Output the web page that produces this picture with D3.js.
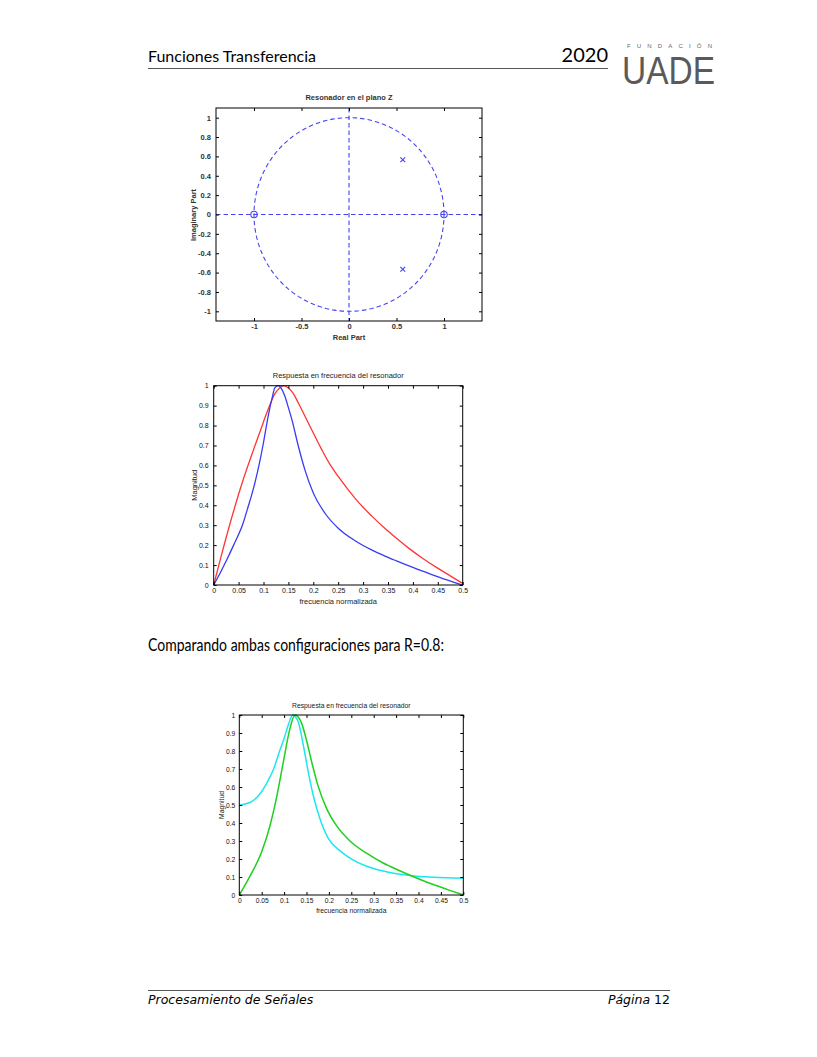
<!DOCTYPE html>
<html><head><meta charset="utf-8">
<script src="https://cdn.jsdelivr.net/npm/d3@7"></script>
<style>body{margin:0;background:#fff}svg{display:block}</style>
</head><body>
<script>
// ---- data ----
const zplaneXTicks = [-1, -0.5, 0, 0.5, 1];
const zplaneYTicks = [-1, -0.8, -0.6, -0.4, -0.2, 0, 0.2, 0.4, 0.6, 0.8, 1];
const zerosRe = [-1, 1];
const zerosIm = [0, 0];
const polesRe = [0.566, 0.566];
const polesIm = [0.566, -0.566];

const freqTicks = [0, 0.05, 0.1, 0.15, 0.2, 0.25, 0.3, 0.35, 0.4, 0.45, 0.5];
const magTicks = [0, 0.1, 0.2, 0.3, 0.4, 0.5, 0.6, 0.7, 0.8, 0.9, 1];

// Plot 2
const f2Blue = [0, 0.013, 0.026, 0.04, 0.059, 0.07, 0.076, 0.083, 0.093, 0.1, 0.11, 0.117, 0.123, 0.13, 0.136, 0.143, 0.15, 0.157, 0.17, 0.183, 0.2, 0.2235, 0.25, 0.284, 0.317, 0.344, 0.367, 0.4, 0.434, 0.465, 0.5];
const m2Blue = [0, 0.06, 0.125, 0.2, 0.31, 0.40, 0.45, 0.515, 0.625, 0.715, 0.855, 0.935, 0.99, 1.0, 0.985, 0.947, 0.89, 0.83, 0.696, 0.579, 0.462, 0.36, 0.285, 0.222, 0.176, 0.145, 0.121, 0.088, 0.056, 0.028, 0];
const f2Red = [0, 0.015, 0.033, 0.059, 0.083, 0.096, 0.103, 0.113, 0.123, 0.133, 0.14, 0.15, 0.16, 0.17, 0.19, 0.217, 0.2335, 0.25, 0.284, 0.30, 0.317, 0.347, 0.37, 0.394, 0.42, 0.448, 0.475, 0.5];
const m2Red = [0, 0.145, 0.31, 0.527, 0.70, 0.79, 0.84, 0.905, 0.96, 0.99, 1.0, 0.988, 0.96, 0.913, 0.813, 0.679, 0.605, 0.545, 0.435, 0.39, 0.347, 0.277, 0.228, 0.18, 0.133, 0.087, 0.046, 0.008];

// Plot 3
const f3Cyan = [0, 0.025, 0.05, 0.0685, 0.075, 0.09, 0.1, 0.11, 0.119, 0.125, 0.1317, 0.1429, 0.154, 0.165, 0.18, 0.199, 0.225, 0.247, 0.284, 0.321, 0.381, 0.433, 0.5];
const m3Cyan = [0.5, 0.515, 0.575, 0.656, 0.69, 0.80, 0.87, 0.95, 1.0, 0.99, 0.961, 0.832, 0.683, 0.554, 0.424, 0.313, 0.245, 0.205, 0.16, 0.133, 0.108, 0.098, 0.093];
const f3Green = [0, 0.025, 0.05, 0.0685, 0.0835, 0.098, 0.113, 0.124, 0.131, 0.139, 0.15, 0.162, 0.176, 0.195, 0.217, 0.247, 0.284, 0.321, 0.336, 0.381, 0.433, 0.465, 0.5];
const m3Green = [0, 0.11, 0.24, 0.385, 0.545, 0.735, 0.924, 1.0, 0.99, 0.955, 0.86, 0.735, 0.605, 0.48, 0.385, 0.30, 0.232, 0.178, 0.16, 0.11, 0.058, 0.03, 0];

// ---- page ----
const W = 817, H = 1057;
const svg = d3.select("body").append("svg").attr("width", W).attr("height", H);

// header
svg.append("text").attr("x", 148).attr("y", 62).attr("font-family", "Lato, 'Open Sans', sans-serif")
  .attr("font-size", 16).attr("fill", "#000").attr("textLength", 168).attr("lengthAdjust", "spacingAndGlyphs").text("Funciones Transferencia");
svg.append("text").attr("x", 608).attr("y", 62).attr("text-anchor", "end").attr("font-family", "Lato, 'Open Sans', sans-serif")
  .attr("font-size", 20).attr("fill", "#000").text("2020");
svg.append("line").attr("x1", 148).attr("x2", 608).attr("y1", 68.5).attr("y2", 68.5).attr("stroke", "#555").attr("stroke-width", 1);
// logo
svg.append("text").attr("x", 627).attr("y", 47.5).attr("font-family", "'Liberation Sans', Arial, sans-serif")
  .attr("font-size", 6).attr("fill", "#666").attr("textLength", 85).attr("lengthAdjust", "spacing").text("FUNDACIÓN");
svg.append("text").attr("x", 622).attr("y", 84).attr("font-family", "'Liberation Sans Narrow', 'Liberation Sans', Arial, sans-serif")
  .attr("font-size", 38).attr("fill", "#5a5a5a").attr("textLength", 93).attr("lengthAdjust", "spacingAndGlyphs").text("UADE");

// section text
svg.append("text").attr("x", 148).attr("y", 651).attr("font-family", "Lato, 'Open Sans', sans-serif")
  .attr("font-size", 16.5).attr("fill", "#000").attr("textLength", 296).attr("lengthAdjust", "spacingAndGlyphs")
  .text("Comparando ambas configuraciones para R=0.8:");

// footer
svg.append("line").attr("x1", 148).attr("x2", 670).attr("y1", 990.5).attr("y2", 990.5).attr("stroke", "#555").attr("stroke-width", 1);
svg.append("text").attr("x", 148).attr("y", 1004).attr("font-family", "'DejaVu Sans', Verdana, sans-serif")
  .attr("font-size", 12.5).attr("font-style", "italic").attr("fill", "#000").text("Procesamiento de Señales");
const pg = svg.append("text").attr("x", 670).attr("y", 1004).attr("text-anchor", "end").attr("font-family", "'DejaVu Sans', Verdana, sans-serif")
  .attr("font-size", 12.5).attr("fill", "#000");
pg.append("tspan").attr("font-style", "italic").text("Página ");
pg.append("tspan").text("12");

const fmt = d => String(+d.toFixed(2)).replace("\u2212", "-");
const FONT = "'Liberation Sans', Arial, sans-serif";

function frame(g, x, y, xt, yt, fs, tcol, padX, padY) {
  const [x0, x1] = x.range(), [y0, y1] = y.range();
  const tl = 3;
  const ax = g.append("g").attr("transform", `translate(0,${y0})`)
    .call(d3.axisBottom(x).tickValues(xt).tickSizeInner(-tl).tickSizeOuter(0).tickPadding(padX).tickFormat(fmt));
  const ay = g.append("g").attr("transform", `translate(${x0},0)`)
    .call(d3.axisLeft(y).tickValues(yt).tickSizeInner(-tl).tickSizeOuter(0).tickPadding(padY).tickFormat(fmt));
  const at = g.append("g").attr("transform", `translate(0,${y1})`)
    .call(d3.axisTop(x).tickValues(xt).tickSizeInner(-tl).tickSizeOuter(0).tickFormat(""));
  const ar = g.append("g").attr("transform", `translate(${x1},0)`)
    .call(d3.axisRight(y).tickValues(yt).tickSizeInner(-tl).tickSizeOuter(0).tickFormat(""));
  [ax, ay, at, ar].forEach(a => {
    a.select(".domain").remove();
    a.selectAll("line").attr("stroke", "#000");
    a.selectAll("text").attr("font-family", FONT).attr("font-size", fs).attr("fill", tcol);
  });
  g.append("rect").attr("x", x0).attr("y", y1).attr("width", x1 - x0).attr("height", y0 - y1)
    .attr("fill", "none").attr("stroke", "#000").attr("stroke-width", 1);
}

// ---- Plot 1: z-plane ----
{
  const g = svg.append("g");
  const x = d3.scaleLinear().domain([-1.4, 1.4]).range([216, 482]);
  const y = d3.scaleLinear().domain([-1.1, 1.1]).range([321, 108]);
  const blue = "#4444f2";
  const circ = d3.range(0, 361, 2).map(a => [Math.cos(a * Math.PI / 180), Math.sin(a * Math.PI / 180)]);
  g.append("path").datum(circ).attr("d", d3.line().x(d => x(d[0])).y(d => y(d[1])))
    .attr("fill", "none").attr("stroke", blue).attr("stroke-width", 1.1).attr("stroke-dasharray", "4.5,3");
  g.append("line").attr("x1", x(-1.4)).attr("x2", x(1.4)).attr("y1", y(0)).attr("y2", y(0))
    .attr("stroke", blue).attr("stroke-width", 1.1).attr("stroke-dasharray", "4.5,3");
  g.append("line").attr("x1", x(0)).attr("x2", x(0)).attr("y1", y(1.1)).attr("y2", y(-1.1))
    .attr("stroke", blue).attr("stroke-width", 1.1).attr("stroke-dasharray", "4.5,3");
  zerosRe.forEach((r, i) => g.append("circle").attr("cx", x(r)).attr("cy", y(zerosIm[i])).attr("r", 3.2)
    .attr("fill", "none").attr("stroke", blue).attr("stroke-width", 1.1));
  polesRe.forEach((r, i) => {
    const cx = x(r), cy = y(polesIm[i]), s = 2.4;
    g.append("path").attr("d", `M${cx - s},${cy - s}L${cx + s},${cy + s}M${cx - s},${cy + s}L${cx + s},${cy - s}`)
      .attr("stroke", blue).attr("stroke-width", 1.1);
  });
  frame(g, x, y, zplaneXTicks, zplaneYTicks, 7.5, "#000", 3, 5);
  g.selectAll(".tick text").attr("font-weight", "bold").attr("fill", "#333");
  g.append("text").attr("x", 349).attr("y", 100).attr("text-anchor", "middle").attr("font-family", FONT)
    .attr("font-size", 7.5).attr("font-weight", "bold").attr("fill", "#333").text("Resonador en el plano Z");
  g.append("text").attr("x", 349).attr("y", 340).attr("text-anchor", "middle").attr("font-family", FONT)
    .attr("font-size", 7.5).attr("font-weight", "bold").attr("fill", "#333").text("Real Part");
  g.append("text").attr("transform", "translate(195.5,215) rotate(-90)").attr("text-anchor", "middle").attr("font-family", FONT)
    .attr("font-size", 7.5).attr("font-weight", "bold").attr("fill", "#333").text("Imaginary Part");
}

function freqPlot(box, series, titleY, xlabY, ylabX, padY, tickFs, labFs, lw) {
  const g = svg.append("g");
  const x = d3.scaleLinear().domain([0, 0.5]).range([box[0], box[1]]);
  const y = d3.scaleLinear().domain([0, 1]).range([box[3], box[2]]);
  series.forEach(s => {
    const pts = s.f.map((f, i) => [f, s.m[i]]);
    g.append("path").datum(pts).attr("d", d3.line().x(d => x(d[0])).y(d => y(d[1])).curve(d3.curveMonotoneX))
      .attr("fill", "none").attr("stroke", s.c).attr("stroke-width", lw);
  });
  frame(g, x, y, freqTicks, magTicks, tickFs, "#111", 3, padY);
  const cx = (box[0] + box[1]) / 2;
  g.append("text").attr("x", cx).attr("y", titleY).attr("text-anchor", "middle").attr("font-family", FONT)
    .attr("font-size", labFs).attr("fill", "#222").text("Respuesta en frecuencia del resonador");
  g.append("text").attr("x", cx).attr("y", xlabY).attr("text-anchor", "middle").attr("font-family", FONT)
    .attr("font-size", labFs).attr("fill", "#222").text("frecuencia normalizada");
  g.append("text").attr("transform", `translate(${ylabX},${(box[2] + box[3]) / 2}) rotate(-90)`).attr("text-anchor", "middle")
    .attr("font-family", FONT).attr("font-size", labFs).attr("fill", "#222").text("Magnitud");
}

freqPlot([213.7, 462.7, 385.7, 585], [
  { f: f2Red, m: m2Red, c: "#ff3535" },
  { f: f2Blue, m: m2Blue, c: "#3a3af5" }
], 378, 604, 197, 5, 7, 7.5, 1.3);

freqPlot([239.3, 463.3, 715, 895], [
  { f: f3Cyan, m: m3Cyan, c: "#1ee6f0" },
  { f: f3Green, m: m3Green, c: "#1fd01f" }
], 708, 912.5, 224, 4, 6.7, 6.8, 1.5);
</script>
</body></html>
